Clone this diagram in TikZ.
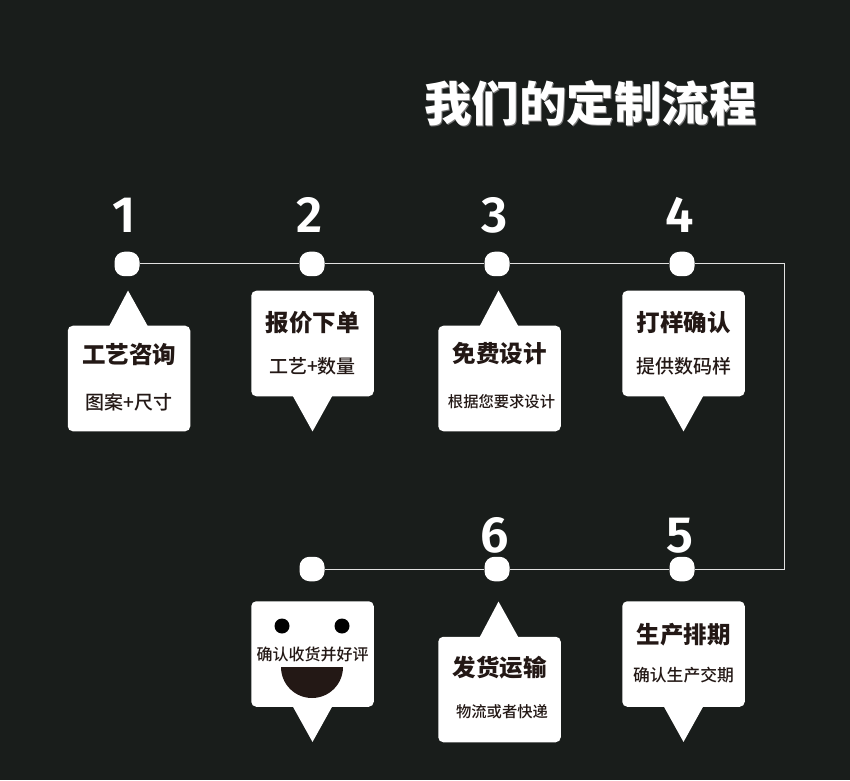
\documentclass[tikz,border=0pt]{standalone}
\usepackage{fontspec}
\setmainfont{Noto Sans CJK SC}
\newfontfamily\subfont{Noto Sans CJK SC}[UprightFont=* Medium]
\newfontfamily\numfont{Fira Sans}[UprightFont=* SemiBold]
\usetikzlibrary{positioning,calc}
\definecolor{pagebg}{RGB}{25,29,27}
\definecolor{cardink}{RGB}{35,24,21}
\definecolor{linegray}{RGB}{225,225,225}
\definecolor{shadowgray}{RGB}{120,120,120}
\tikzset{
    dot/.style={fill=white, rectangle, rounded corners=10pt, minimum width=25pt, minimum height=24.5pt, inner sep=0pt},
    card/.style={fill=white, rectangle, rounded corners=5pt, minimum width=122.5pt, minimum height=105.5pt, inner sep=0pt},
    stepnum/.style={text=white, inner sep=0pt, xshift=-2.5pt, font=\numfont\fontsize{51}{51}\selectfont},
    cardtitle/.style={text=cardink, inner sep=0pt, font=\bfseries\fontsize{23.5}{24}\selectfont},
    cardsub/.style={text=cardink, inner sep=0pt, font=\subfont\fontsize{19}{20}\selectfont},
    pointer/.style={fill=white}
}
\begin{document}
\begin{tikzpicture}[x=1pt, y=1pt, node distance=185pt]
    \fill[pagebg] (0,0) rectangle (850,780);

    % Title
    \node[text=shadowgray, inner sep=0pt, font=\bfseries\fontsize{47.5}{48}\selectfont] (titleback) at (591.5,675.5) {我们的定制流程};
    \node[text=white, inner sep=0pt, font=\bfseries\fontsize{47.5}{48}\selectfont] (title) at (590.5,676.5) {我们的定制流程};

    % Dots
    \node[dot] (dota) at (127,516) {};
    \node[dot, right of=dota] (dotb) {};
    \node[dot, right of=dotb] (dotc) {};
    \node[dot, right of=dotc] (dotd) {};
    \node[dot] (dotg) at (312,211) {};
    \node[dot, right of=dotg] (dotf) {};
    \node[dot, right of=dotf] (dote) {};
    \coordinate (turna) at (784,516);
    \coordinate (turnb) at (784,211);

    % Line
    \draw[linegray, line width=1pt] (dota) -- (dotb) -- (dotc) -- (dotd) -- (turna) -- (turnb) -- (dote) -- (dotf) -- (dotg);

    % Numbers
    \node[stepnum, above of=dota, node distance=49pt] (numa) {1};
    \node[stepnum, above of=dotb, node distance=49pt] (numb) {2};
    \node[stepnum, above of=dotc, node distance=49pt] (numc) {3};
    \node[stepnum, above of=dotd, node distance=49pt] (numd) {4};
    \node[stepnum, above of=dote, node distance=33.5pt] (nume) {5};
    \node[stepnum, above of=dotf, node distance=33.5pt] (numf) {6};

    % Cards
    \node[card, below of=dota, node distance=114.5pt, xshift=2pt] (carda) {};
    \node[card, below of=dotb, node distance=79.5pt, xshift=0.5pt] (cardb) {};
    \node[card, below of=dotc, node distance=114.5pt, xshift=2.5pt] (cardc) {};
    \node[card, below of=dotd, node distance=79.5pt, xshift=1.5pt] (cardd) {};
    \node[card, below of=dote, node distance=85pt, xshift=1.5pt] (carde) {};
    \node[card, below of=dotf, node distance=120.5pt, xshift=2.5pt] (cardf) {};
    \node[card, below of=dotg, node distance=85pt, xshift=0.5pt] (cardg) {};

    % Pointers
    \fill[pointer] (carda.north) +(-20,-1) -- +(-1,35) -- +(19,-1) -- cycle;
    \fill[pointer] (cardb.south) +(-20,1) -- +(0,-35) -- +(20,1) -- cycle;
    \fill[pointer] (cardc.north) +(-20,-1) -- +(-1,35) -- +(19,-1) -- cycle;
    \fill[pointer] (cardd.south) +(-20,1) -- +(0,-35) -- +(20,1) -- cycle;
    \fill[pointer] (carde.south) +(-20,1) -- +(0,-35) -- +(20,1) -- cycle;
    \fill[pointer] (cardf.north) +(-20,-1) -- +(-1,35) -- +(19,-1) -- cycle;
    \fill[pointer] (cardg.south) +(-20,1) -- +(0,-35) -- +(20,1) -- cycle;

    % Card texts
    \node[cardtitle, above of=carda, node distance=24.5pt] (titlea) {工艺咨询};
    \node[cardsub, below of=carda, node distance=23.5pt] (suba) {图案+尺寸};
    \node[cardtitle, above of=cardb, node distance=20.5pt] (titleb) {报价下单};
    \node[cardsub, below of=cardb, node distance=22.5pt] (subb) {工艺+数量};
    \node[cardtitle, above of=cardc, node distance=25pt] (titlec) {免费设计};
    \node[cardsub, below of=cardc, node distance=23.5pt, xshift=2pt, font=\subfont\fontsize{15.3}{16}\selectfont] (subc) {根据您要求设计};
    \node[cardtitle, above of=cardd, node distance=20.5pt] (titled) {打样确认};
    \node[cardsub, below of=cardd, node distance=22.5pt] (subd) {提供数码样};
    \node[cardtitle, above of=carde, node distance=19pt] (titlee) {生产排期};
    \node[cardsub, below of=carde, node distance=21pt, font=\subfont\fontsize{16.8}{17}\selectfont] (sube) {确认生产交期};
    \node[cardtitle, above of=cardf, node distance=22pt] (titlef) {发货运输};
    \node[cardsub, below of=cardf, node distance=22.5pt, xshift=2.5pt, font=\subfont\fontsize{15.3}{16}\selectfont] (subf) {物流或者快递};

    % Smile
    \node[cardsub, font=\subfont\fontsize{16}{16}\selectfont] (subg) at (cardg) {确认收货并好评};
    \fill[black] ($(cardg)+(-30.5,28)$) circle (7.5);
    \fill[black] ($(cardg)+(29.5,28)$) circle (7.5);
    \fill[cardink] ($(cardg)+(-31.5,-13)$) arc[start angle=180, end angle=360, radius=31];
\end{tikzpicture}
\end{document}
